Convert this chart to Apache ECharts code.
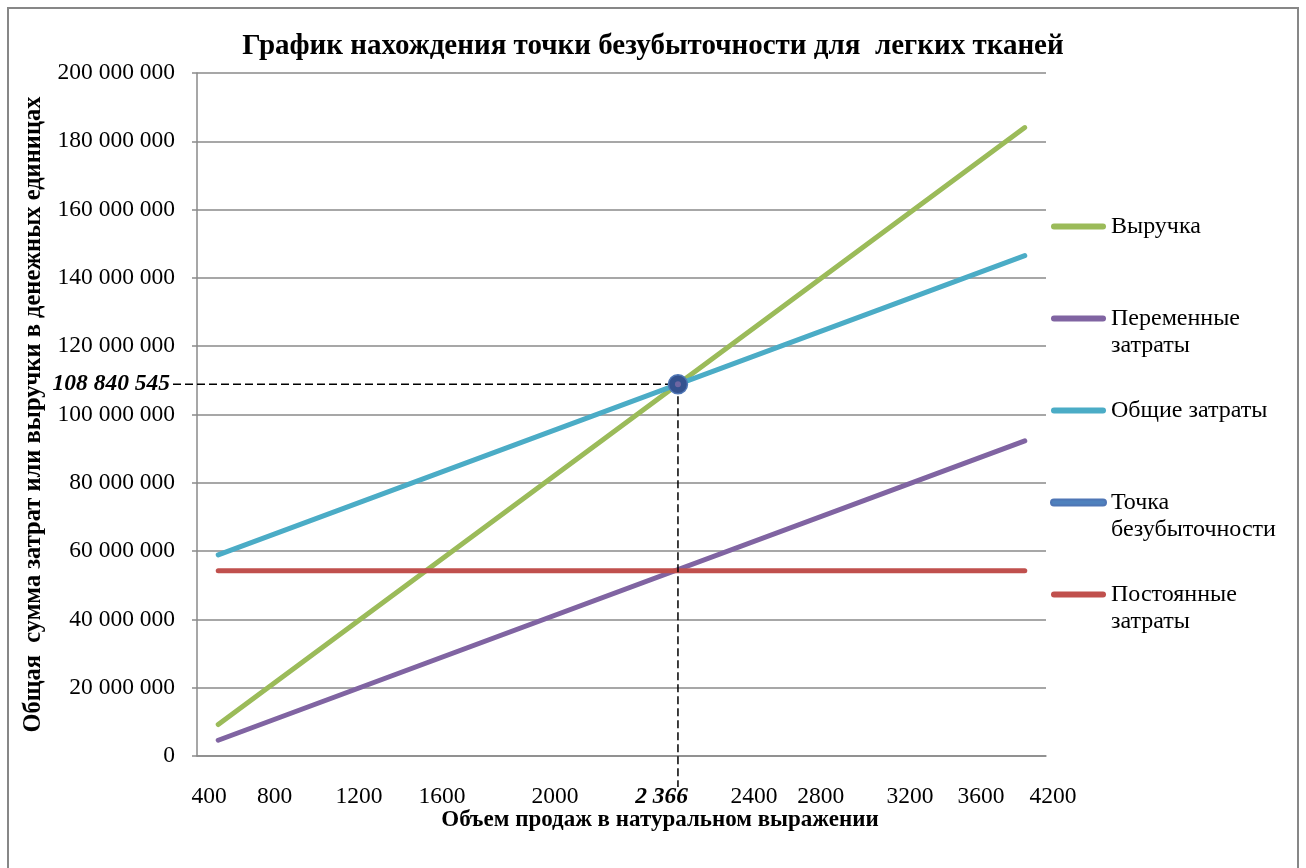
<!DOCTYPE html>
<html>
<head>
<meta charset="utf-8">
<script src="https://cdn.jsdelivr.net/npm/echarts@6/dist/echarts.min.js"></script>
<style>
  html, body { margin: 0; padding: 0; background: #ffffff; }
  #chart { width: 1306px; height: 868px; }
</style>
</head>
<body>
<div id="chart"></div>
<script>
// Sales volume (units) at the two ends of each straight line
const volume = [200, 4000];
// Money values, roubles
const revenue = [9200550, 184011080];
const variableCosts = [4614000, 92280000];
const totalCosts = [58874000, 146540000];
const fixedCosts = [54260000, 54260000];
// Break-even point: [volume, money]
const breakEven = [2366, 108840545];

// Horizontal axis tick captions and where they sit on the volume scale
const xTickLabels = ['400', '800', '1200', '1600', '2000', '2400', '2800', '3200', '3600', '4200'];
const xTickAt = [157, 466, 863, 1254, 1787, 2724, 3039, 3459, 3794, 4133];
// Caption of the break-even volume on the horizontal axis
const breakEvenTickAt = 2289;

const seriesNames = ['Выручка', 'Переменные\nзатраты', 'Общие затраты', 'Точка\nбезубыточности', 'Постоянные\nзатраты'];
const seriesColors = ['#9BBB59', '#8064A2', '#4BACC6', '#4F81BD', '#C0504D'];

const FONT = 'Liberation Serif';
const GRID = { left: 197, right: 260, top: 73, bottom: 112 };

function groupDigits(v) {
  return String(v).replace(/\B(?=(\d{3})+(?!\d))/g, ' ');
}
function pairs(xs, ys) {
  return xs.map((x, i) => [x, ys[i]]);
}
function lineSeries(idx, values) {
  return {
    name: seriesNames[idx],
    type: 'line',
    data: pairs(volume, values),
    showSymbol: false,
    symbol: 'none',
    lineStyle: { width: 5, color: seriesColors[idx], cap: 'round' },
    itemStyle: { color: seriesColors[idx] },
    silent: true,
    z: 3
  };
}

const chart = echarts.init(document.getElementById('chart'), null, { renderer: 'canvas' });

const legendIcon = 'path://M3,0 L52,0 A3,3 0 0 1 52,6 L3,6 A3,3 0 0 1 3,0 Z';

chart.setOption({
  animation: false,
  backgroundColor: '#ffffff',
  title: {
    text: 'График нахождения точки безубыточности для  легких тканей',
    left: 'center',
    top: 27,
    textStyle: { fontFamily: FONT, fontSize: 29, fontWeight: 'bold', color: '#000' }
  },
  grid: GRID,
  legend: {
    orient: 'vertical',
    left: 1050,
    top: 186,
    padding: 0,
    itemWidth: 55,
    itemHeight: 6,
    itemGap: 11,
    selectedMode: false,
    data: seriesNames.map((n, i) => ({ name: n, icon: legendIcon, itemStyle: { color: seriesColors[i] } })),
    formatter: function (name) {
      // blank first line keeps the icon level with the first line of the caption
      return ' \n' + name + (name.indexOf('\n') < 0 ? '\n ' : '');
    },
    textStyle: { fontFamily: FONT, fontSize: 24, lineHeight: 27, color: '#000' }
  },
  xAxis: {
    type: 'value',
    min: 100,
    max: 4100,
    name: 'Объем продаж в натуральном выражении',
    nameLocation: 'middle',
    nameGap: 53,
    nameTextStyle: { fontFamily: FONT, fontSize: 23, fontWeight: 'bold', color: '#000', padding: [0, 0, 0, 77] },
    axisLine: { show: true, lineStyle: { color: '#8a8a8a', width: 1.5 } },
    axisTick: { show: false },
    axisLabel: { show: false },
    splitLine: { show: false }
  },
  yAxis: {
    type: 'value',
    min: 0,
    max: 200000000,
    interval: 20000000,
    name: 'Общая  сумма затрат или выручки в денежных единицах',
    nameLocation: 'middle',
    nameGap: 150,
    nameTextStyle: { fontFamily: FONT, fontSize: 24.5, fontWeight: 'bold', color: '#000' },
    axisLine: { show: true, lineStyle: { color: '#8a8a8a', width: 1.5 } },
    axisTick: { show: true, length: 5, lineStyle: { color: '#8a8a8a', width: 1.5 } },
    axisLabel: {
      margin: 22,
      fontFamily: FONT, fontSize: 23.5, color: '#000',
      formatter: v => groupDigits(v)
    },
    splitLine: { show: true, lineStyle: { color: '#8a8a8a', width: 1.5 } }
  },
  series: [
    lineSeries(0, revenue),
    lineSeries(1, variableCosts),
    lineSeries(2, totalCosts),
    {
      name: seriesNames[3],
      type: 'line',
      data: [breakEven],
      symbol: 'circle',
      symbolSize: 19,
      itemStyle: { color: '#34528F', borderColor: '#4F76B5', borderWidth: 1.5 },
      lineStyle: { color: seriesColors[3] },
      silent: true,
      z: 6
    },
    lineSeries(4, fixedCosts),
    {
      type: 'scatter',
      data: [breakEven],
      symbolSize: 6,
      itemStyle: { color: '#7E6BA6' },
      silent: true,
      z: 7
    }
  ]
});

// Guides, break-even captions and horizontal-axis captions, placed through the axis scales
const bePx = chart.convertToPixel({ gridIndex: 0 }, breakEven);
const gridBottomPx = 868 - GRID.bottom;
const dash = { stroke: '#000', lineWidth: 1.5, lineDash: [8, 4] };
const captionStyle = { fontFamily: FONT, fontSize: 23.5, fill: '#000' };

const graphics = [
  {
    type: 'rect',
    shape: { x: 8, y: 8, width: 1290, height: 900 },
    style: { fill: 'none', stroke: '#878787', lineWidth: 2 },
    silent: true, z: 0
  },
  {
    type: 'line',
    shape: { x1: GRID.left - 24, y1: bePx[1], x2: bePx[0], y2: bePx[1] },
    style: dash, silent: true, z: 5
  },
  {
    type: 'line',
    shape: { x1: bePx[0], y1: bePx[1], x2: bePx[0], y2: gridBottomPx + 31 },
    style: dash, silent: true, z: 5
  },
  {
    type: 'text',
    x: GRID.left - 27, y: bePx[1],
    style: Object.assign({}, captionStyle, {
      text: groupDigits(breakEven[1]), fontWeight: 'bold', fontStyle: 'italic',
      align: 'right', verticalAlign: 'middle'
    }),
    silent: true, z: 10
  },
  {
    type: 'text',
    x: chart.convertToPixel({ xAxisIndex: 0 }, breakEvenTickAt), y: gridBottomPx + 41,
    style: Object.assign({}, captionStyle, {
      text: groupDigits(breakEven[0]), fontWeight: 'bold', fontStyle: 'italic',
      align: 'center', verticalAlign: 'middle'
    }),
    silent: true, z: 10
  }
];
xTickLabels.forEach((t, i) => {
  graphics.push({
    type: 'text',
    x: chart.convertToPixel({ xAxisIndex: 0 }, xTickAt[i]), y: gridBottomPx + 41,
    style: Object.assign({}, captionStyle, { text: t, align: 'center', verticalAlign: 'middle' }),
    silent: true, z: 10
  });
});

chart.setOption({ graphic: graphics });
</script>
</body>
</html>
